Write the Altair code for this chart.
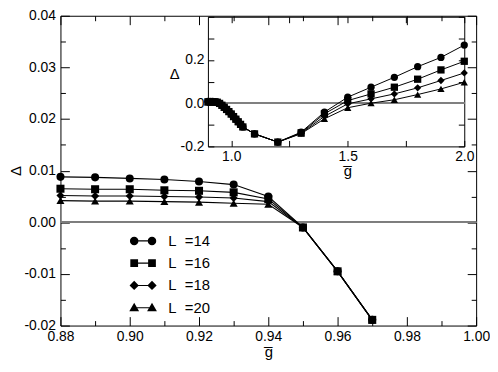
import altair as alt
import pandas as pd

NB = "\u00a0"
series = ["L" + NB + NB + "=14", "L" + NB + NB + "=16", "L" + NB + NB + "=18", "L" + NB + NB + "=20"]
shapes = ["circle", "square", "diamond", "triangle-up"]

# main panel
main_x = [0.88, 0.89, 0.90, 0.91, 0.92, 0.93, 0.94, 0.95, 0.96, 0.97]
main_y14 = [0.0088, 0.0087, 0.0085, 0.0083, 0.0079, 0.0073, 0.0050, -0.0010, -0.0095, -0.0189]
main_y16 = [0.0065, 0.0064, 0.0064, 0.0062, 0.0061, 0.0058, 0.0045, -0.0010, -0.0095, -0.0189]
main_y18 = [0.0052, 0.0051, 0.0051, 0.0050, 0.0049, 0.0047, 0.0040, -0.0010, -0.0095, -0.0189]
main_y20 = [0.0042, 0.0041, 0.0041, 0.0040, 0.0039, 0.0037, 0.0035, -0.0010, -0.0095, -0.0189]

# inset panel
inset_x = [0.90, 0.91, 0.92, 0.93, 0.94, 0.95, 0.96, 0.97, 0.98, 0.99, 1.00, 1.01, 1.02, 1.03,
           1.04, 1.05, 1.1, 1.2, 1.3, 1.4, 1.5, 1.6, 1.7, 1.8, 1.9, 2.0]
dense = [-0.0010, -0.0095, -0.0189, -0.029, -0.039, -0.050, -0.062, -0.074, -0.086, -0.098, -0.110, -0.142, -0.180]
inset_y14 = [0.0085, 0.0083, 0.0079, 0.0073, 0.0050] + dense + [-0.134, -0.041, 0.028, 0.074, 0.120, 0.169, 0.212, 0.269]
inset_y16 = [0.0064, 0.0062, 0.0061, 0.0058, 0.0045] + dense + [-0.137, -0.049, 0.012, 0.043, 0.074, 0.111, 0.154, 0.194]
inset_y18 = [0.0051, 0.0050, 0.0049, 0.0047, 0.0040] + dense + [-0.139, -0.061, -0.003, 0.020, 0.043, 0.071, 0.105, 0.140]
inset_y20 = [0.0041, 0.0040, 0.0039, 0.0037, 0.0035] + dense + [-0.141, -0.072, -0.021, 0.000, 0.016, 0.040, 0.066, 0.097]

# tick values
mx_major = [0.88, 0.90, 0.92, 0.94, 0.96, 0.98, 1.00]
mx_minor = [0.89, 0.91, 0.93, 0.95, 0.97, 0.99]
my_major = [-0.02, -0.01, 0.0, 0.01, 0.02, 0.03, 0.04]
my_minor = [-0.015, -0.005, 0.005, 0.015, 0.025, 0.035]
ix_major = [1.0, 1.5, 2.0]
ix_minor = [1.25, 1.75]
iy_labels = [-0.2, 0.0, 0.2]
iy_major = [-0.2, 0.0, 0.2, 0.4]
iy_minor = [-0.1, 0.1, 0.3]

W, H = 420, 313
FONT = "Liberation Sans"


def long(xs, ys_list):
    rows = []
    for s, ys in zip(series, ys_list):
        for x, y in zip(xs, ys):
            rows.append({"x": x, "y": y, "L": s})
    return pd.DataFrame(rows)


main_df = long(main_x, [main_y14, main_y16, main_y18, main_y20])
inset_df = long(inset_x, [inset_y14, inset_y16, inset_y18, inset_y20])

sx_m = alt.Scale(domain=[0.88, 1.0], nice=False, zero=False)
sy_m = alt.Scale(domain=[-0.02, 0.04], nice=False, zero=False)
IX0, IX1, IY0, IY1 = 149, 408, 132, 1
sx_i = alt.Scale(domain=[0.9, 2.0], range=[IX0, IX1], nice=False, zero=False)
sy_i = alt.Scale(domain=[-0.2, 0.4], range=[IY0, IY1], nice=False, zero=False)

shape_scale = alt.Scale(domain=series, range=shapes)

MINUS_FIX = "replace(format(datum.value, '{f}'), '\u2212', '-')"


def tick_axis(orient, values, size, offset, domain=False):
    return alt.Axis(orient=orient, values=values, tickSize=size, ticks=True, labels=False,
                    domain=domain, domainColor="black", domainWidth=1, offset=offset,
                    grid=False, title=None, tickColor="black", tickWidth=1)


def axis_layers(df, sx, sy, xlab_axis, ylab_axis, xmaj, xmin, ymaj, ymin,
                x_bottom, x_top, y_left, y_right, big, small):
    base = alt.Chart(df).mark_point(opacity=0)
    layers = [
        base.encode(x=alt.X("x:Q", scale=sx, axis=xlab_axis),
                    y=alt.Y("y:Q", scale=sy, axis=ylab_axis)),
        # bottom inward ticks (top-oriented axis moved down), left inward ticks
        base.encode(x=alt.X("x:Q", scale=sx, axis=tick_axis("top", xmaj, big, -x_bottom)),
                    y=alt.Y("y:Q", scale=sy, axis=tick_axis("right", ymaj, big, y_left - W))),
        base.encode(x=alt.X("x:Q", scale=sx, axis=tick_axis("top", xmin, small, -x_bottom)),
                    y=alt.Y("y:Q", scale=sy, axis=tick_axis("right", ymin, small, y_left - W))),
        # top inward ticks with top frame, right inward ticks with right frame
        base.encode(x=alt.X("x:Q", scale=sx, axis=tick_axis("bottom", xmaj, big, x_top - H, True)),
                    y=alt.Y("y:Q", scale=sy, axis=tick_axis("left", ymaj, big, -y_right, True))),
        base.encode(x=alt.X("x:Q", scale=sx, axis=tick_axis("bottom", xmin, small, x_top - H)),
                    y=alt.Y("y:Q", scale=sy, axis=tick_axis("left", ymin, small, -y_right))),
    ]
    return layers


# ---------- main panel ----------
main_xlab = alt.Axis(orient="bottom", values=mx_major, ticks=False, labels=True, domain=True,
                     domainColor="black", domainWidth=1, grid=False, format=".2f",
                     labelFlush=False, labelOverlap=False,
                     labelFont=FONT, labelFontSize=14, labelColor="black", labelPadding=4,
                     title="g\u0305", titleFont=FONT, titleFontSize=15, titleFontWeight="normal",
                     titleColor="black", titlePadding=1)
main_ylab = alt.Axis(orient="left", values=my_major, ticks=False, labels=True, domain=True,
                     domainColor="black", domainWidth=1, grid=False,
                     labelFlush=False, labelOverlap=False,
                     labelExpr=MINUS_FIX.format(f=".2f"),
                     labelFont=FONT, labelFontSize=14, labelColor="black", labelPadding=5,
                     title="\u0394", titleFont=FONT, titleFontSize=15, titleFontWeight="normal",
                     titleColor="black", titlePadding=0)

m_zero = alt.Chart(main_df).mark_rule(color="#7f7f7f", strokeWidth=1).encode(
    y=alt.YDatum(0, scale=sy_m, type="quantitative", axis=None))
m_lines = alt.Chart(main_df).mark_line(color="black", strokeWidth=1.1).encode(
    x=alt.X("x:Q", scale=sx_m, axis=None), y=alt.Y("y:Q", scale=sy_m, axis=None),
    detail="L:N")
m_pts = alt.Chart(main_df).mark_point(filled=True, color="black", opacity=1, size=66).encode(
    x=alt.X("x:Q", scale=sx_m, axis=None), y=alt.Y("y:Q", scale=sy_m, axis=None),
    shape=alt.Shape("L:N", scale=shape_scale, legend=None))

# legend (custom symbols: marker - line - marker)
leg_paths = [
    "M -1.02 0 A 0.33 0.33 0 1 1 -0.36 0 A 0.33 0.33 0 1 1 -1.02 0 Z "
    "M 0.36 0 A 0.33 0.33 0 1 1 1.02 0 A 0.33 0.33 0 1 1 0.36 0 Z "
    "M -0.69 -0.045 L 0.69 -0.045 L 0.69 0.045 L -0.69 0.045 Z",
    "M -0.99 -0.3 L -0.39 -0.3 L -0.39 0.3 L -0.99 0.3 Z "
    "M 0.39 -0.3 L 0.99 -0.3 L 0.99 0.3 L 0.39 0.3 Z "
    "M -0.69 -0.045 L 0.69 -0.045 L 0.69 0.045 L -0.69 0.045 Z",
    "M -1.05 0 L -0.69 -0.36 L -0.33 0 L -0.69 0.36 Z "
    "M 0.33 0 L 0.69 -0.36 L 1.05 0 L 0.69 0.36 Z "
    "M -0.69 -0.045 L 0.69 -0.045 L 0.69 0.045 L -0.69 0.045 Z",
    "M -0.69 -0.38 L -0.31 0.28 L -1.07 0.28 Z "
    "M 0.69 -0.38 L 1.07 0.28 L 0.31 0.28 Z "
    "M -0.69 -0.045 L 0.69 -0.045 L 0.69 0.045 L -0.69 0.045 Z",
]
leg_df = pd.DataFrame({"x": [0.88] * 4, "y": [0.0] * 4, "Lg": series})
m_leg = alt.Chart(leg_df).mark_point(filled=True, color="black", opacity=0).encode(
    x=alt.X("x:Q", scale=sx_m, axis=None), y=alt.Y("y:Q", scale=sy_m, axis=None),
    shape=alt.Shape("Lg:N", scale=alt.Scale(domain=series, range=leg_paths),
                    legend=alt.Legend(orient="none", legendX=70, legendY=214, title=None,
                                      symbolSize=680, symbolOpacity=1, symbolFillColor="black",
                                      symbolStrokeWidth=0, labelFont=FONT, labelFontSize=15,
                                      labelColor="black", labelOffset=12, rowPadding=0.5,
                                      padding=0, labelLimit=200)))

main_axes = axis_layers(main_df, sx_m, sy_m, main_xlab, main_ylab,
                        mx_major, mx_minor, my_major, my_minor,
                        x_bottom=H, x_top=0, y_left=0, y_right=W, big=9, small=5)

main_layer = alt.layer(m_zero, m_lines, m_pts, m_leg, *main_axes).resolve_axis(
    x="independent", y="independent").resolve_scale(shape="independent")

# ---------- inset panel ----------
in_xlab = alt.Axis(orient="bottom", values=ix_major, ticks=False, labels=True, domain=True,
                   domainColor="black", domainWidth=1, grid=False, format=".1f",
                   offset=IY0 - H, labelFlush=False, labelOverlap=False,
                   labelFont=FONT, labelFontSize=14, labelColor="black", labelPadding=3,
                   title="g\u0305", titleFont=FONT, titleFontSize=15, titleFontWeight="normal",
                   titleColor="black", titlePadding=0, titleX=290, titleAlign="center")
in_ylab = alt.Axis(orient="left", values=iy_labels, ticks=False, labels=True, domain=True,
                   domainColor="black", domainWidth=1, grid=False, offset=-IX0,
                   labelFlush=False, labelOverlap=False,
                   labelExpr=MINUS_FIX.format(f=".1f"),
                   labelFont=FONT, labelFontSize=14, labelColor="black", labelPadding=4,
                   title="\u0394", titleAngle=0, titleFont=FONT, titleFontSize=15,
                   titleFontWeight="normal", titleColor="black", titlePadding=6)

i_zero = alt.Chart(inset_df).mark_rule(color="#7f7f7f", strokeWidth=1).encode(
    x=alt.XDatum(0.9, scale=sx_i, type="quantitative", axis=None), x2=alt.X2Datum(2.0),
    y=alt.YDatum(0, scale=sy_i, type="quantitative", axis=None))
i_lines = alt.Chart(inset_df).mark_line(color="black", strokeWidth=1).encode(
    x=alt.X("x:Q", scale=sx_i, axis=None), y=alt.Y("y:Q", scale=sy_i, axis=None),
    detail="L:N")
i_pts = alt.Chart(inset_df).mark_point(filled=True, color="black", opacity=1, size=54).encode(
    x=alt.X("x:Q", scale=sx_i, axis=None), y=alt.Y("y:Q", scale=sy_i, axis=None),
    shape=alt.Shape("L:N", scale=shape_scale, legend=None))

inset_axes = axis_layers(inset_df, sx_i, sy_i, in_xlab, in_ylab,
                         ix_major, ix_minor, iy_major, iy_minor,
                         x_bottom=IY0, x_top=IY1, y_left=IX0, y_right=IX1, big=6, small=6)

inset_layer = alt.layer(i_zero, i_lines, i_pts, *inset_axes).resolve_axis(
    x="independent", y="independent")

chart = alt.layer(main_layer, inset_layer).resolve_scale(
    x="independent", y="independent", shape="independent"
).properties(
    width=W, height=H,
    autosize=alt.AutoSizeParams(type="none"),
    padding={"left": 53, "top": 6, "right": 14, "bottom": 37}
).configure_view(stroke=None)

chart.save("out.html", embed_options={"renderer": "svg", "actions": False})
